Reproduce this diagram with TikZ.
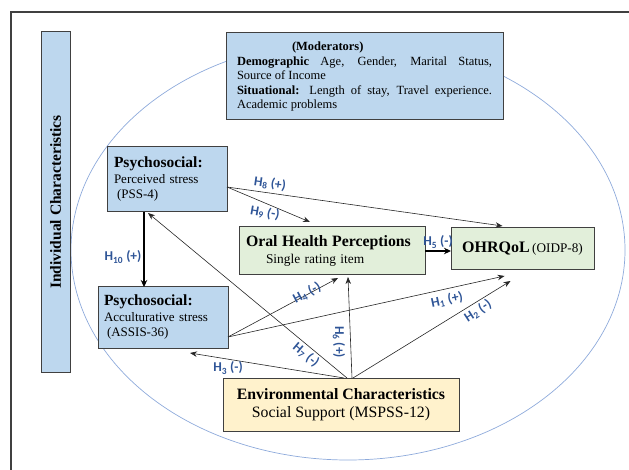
\documentclass[tikz,border=0pt]{standalone}
\usepackage{fontspec}
\setmainfont{Liberation Serif}
\newfontfamily\lblfont{Carlito}
\usetikzlibrary{arrows.meta}
\definecolor{boxblue}{HTML}{BDD7EE}
\definecolor{boxgreen}{HTML}{E2EFDA}
\definecolor{boxyellow}{HTML}{FFF2CC}
\definecolor{lblblue}{HTML}{2F5597}
\definecolor{ellblue}{HTML}{8EAADB}
\definecolor{frameg}{HTML}{404040}
\tikzset{
  box/.style={draw=frameg, line width=1pt, inner sep=0pt, outer sep=0pt},
  conn/.style={draw=black!85, line width=0.6pt, -{Stealth[length=7pt,width=5.5pt]}},
  thickconn/.style={draw=black, line width=1.6pt, -{Stealth[length=7pt,width=6.5pt]}},
  hlabel/.style={font=\lblfont\bfseries\fontsize{13.5}{14}\selectfont, text=lblblue, inner sep=0pt}
}
\begin{document}
\begin{tikzpicture}[x=1pt,y=-1pt]
\useasboundingbox (0,0) rectangle (629,470);
% outer frame (top and left visible)
\draw[frameg, line width=1.2pt] (629,12) -- (11,12) -- (11,470);
% ellipse
\draw[ellblue, line width=0.7pt] (348,250) ellipse [x radius=277, y radius=210];
% Individual characteristics bar
\node[box, fill=boxblue, minimum width=29pt, minimum height=340pt] (ind) at (55.5,202) {};
\node[rotate=90, font=\bfseries\fontsize{15.5}{17}\selectfont] (indt) at (ind.center) {Individual Characteristics};
% moderators
\node[box, fill=boxblue, minimum width=277pt, minimum height=87pt, text width=255pt, align=justify,
      font=\fontsize{12.5}{14.5}\selectfont] (mod) at (364.5,76.5)
  {\hspace*{55pt}\textbf{(Moderators)}\\
   \textbf{Demographic} Age, Gender, Marital Status,\linebreak Source of Income\\
   \textbf{Situational:} Length of stay, Travel experience.\linebreak Academic problems};
% psychosocial perceived stress
\node[box, fill=boxblue, minimum width=120pt, minimum height=65pt, text width=106pt, align=left,
      font=\fontsize{13}{15.5}\selectfont] (pss) at (167,179.5)
  {{\bfseries\fontsize{15.5}{15.5}\selectfont Psychosocial:}\\Perceived stress\\\hspace*{3pt}(PSS-4)};
% psychosocial acculturative stress
\node[box, fill=boxblue, minimum width=130pt, minimum height=61pt, text width=118pt, align=left,
      font=\fontsize{13}{15.5}\selectfont] (assis) at (163,317.5)
  {{\bfseries\fontsize{15.5}{15.5}\selectfont Psychosocial:}\\Acculturative stress\\\hspace*{3pt}(ASSIS-36)};
% oral health perceptions
\node[box, fill=boxgreen, minimum width=186pt, minimum height=48pt, text width=172pt, align=left,
      font=\fontsize{13.4}{16.5}\selectfont] (oral) at (332,251)
  {{\bfseries\fontsize{15.8}{16.5}\selectfont Oral Health Perceptions}\\\hspace*{20pt}Single rating item};
% OHRQoL
\node[box, fill=boxgreen, minimum width=143pt, minimum height=42pt, align=center] (ohr) at (522.5,249)
  {\raisebox{3pt}{{\bfseries\fontsize{16}{18}\selectfont OHRQoL} {\fontsize{13.2}{15}\selectfont(OIDP-8)}}};
% environmental
\node[box, fill=boxyellow, minimum width=236pt, minimum height=53pt, align=center,
      font=\fontsize{15.8}{18.5}\selectfont] (env) at (341,404.5)
  {\textbf{Environmental Characteristics}\\Social Support (MSPSS-12)};
% connectors
\draw[conn] ([yshift=-7.5pt]pss.east) -- ([xshift=-20pt,yshift=2pt]ohr.north);
\draw[conn] ([yshift=-7.5pt]pss.east) -- ([xshift=-22pt,yshift=5pt]oral.north);
\draw[thickconn] ([xshift=-23pt]pss.south) -- ([xshift=-19pt]assis.north);
\draw[thickconn] (oral.east) -- (oral.east -| ohr.west);
\draw[conn] ([yshift=11pt]assis.south east) -- ([xshift=6pt,yshift=-3pt]oral.south);
\draw[conn] ([yshift=11pt]assis.south east) -- ([xshift=-18pt,yshift=-6pt]ohr.south);
\draw[conn] ([xshift=11pt]env.north) -- ([xshift=16pt,yshift=-2pt]oral.south);
\draw[conn] ([xshift=12pt]env.north) -- ([xshift=-12pt,yshift=-11pt]ohr.south);
\draw[conn] ([xshift=6pt]env.north) -- ([xshift=-19pt,yshift=-1pt]pss.south);
\draw[conn] ([xshift=3pt]env.north) -- ([xshift=27pt,yshift=-5pt]assis.south);
% labels
\node[hlabel, rotate=-8] (l8) at (270,184) {H\textsubscript{8} (+)};
\node[hlabel, rotate=-10] (l9) at (265,213) {H\textsubscript{9} (-)};
\node[hlabel] (l10) at (123,257) {H\textsubscript{10} (+)};
\node[hlabel] (l5) at (438,242) {H\textsubscript{5} (-)};
\node[hlabel, rotate=28] (l4) at (307,293) {H\textsubscript{4} (-)};
\node[hlabel, rotate=12] (l1) at (447,300) {H\textsubscript{1} (+)};
\node[hlabel, rotate=33] (l2) at (478,311) {H\textsubscript{2} (-)};
\node[hlabel, rotate=-90] (l6) at (339,342) {H\textsubscript{6} (+)};
\node[hlabel, rotate=-40] (l7) at (306,355) {H\textsubscript{7} (-)};
\node[hlabel] (l3) at (228,368) {H\textsubscript{3} (-)};
\end{tikzpicture}
\end{document}
